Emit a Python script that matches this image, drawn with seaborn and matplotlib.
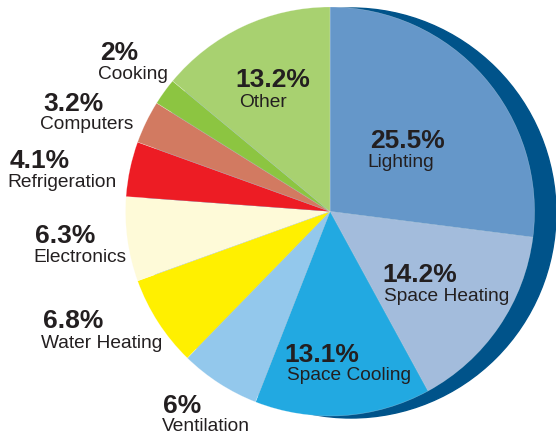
import matplotlib
matplotlib.use("Agg")
import matplotlib.pyplot as plt
import seaborn as sns
from matplotlib.patches import Circle

categories = ["Lighting", "Space Heating", "Space Cooling", "Ventilation",
              "Water Heating", "Electronics", "Refrigeration", "Computers",
              "Cooking", "Other"]
values = [25.5, 14.2, 13.1, 6, 6.8, 6.3, 4.1, 3.2, 2, 13.2]
colors = ["#6597c9", "#a3bcdc", "#22a9e1", "#93c8ec", "#fff000",
          "#fefad8", "#ed1c24", "#d27a61", "#8cc541", "#a8d170"]

# label anchor positions in pixels (left, baseline) for percent and name
label_pos = {
    "Lighting": ((370, 148), (367, 167)),
    "Space Heating": ((382, 282), (384, 301)),
    "Space Cooling": ((284, 362), (287, 380)),
    "Ventilation": ((163, 413), (162, 431)),
    "Water Heating": ((43, 328), (41, 348)),
    "Electronics": ((35, 243), (33, 262)),
    "Refrigeration": ((10, 168), (7, 187)),
    "Computers": ((43, 111), (40, 129)),
    "Cooking": ((100, 60), (98, 79)),
    "Other": ((235, 87), (239, 107)),
}

sns.set_theme(style="white")
plt.rcParams["font.family"] = ["Liberation Sans", "DejaVu Sans"]

W, H = 556, 436
fig = plt.figure(figsize=(W / 100, H / 100), dpi=100)
ax = fig.add_axes([0, 0, 1, 1])
ax.set_xlim(0, W)
ax.set_ylim(0, H)
ax.axis("off")

cx, cy, r = 330, H - 211.5, 204.5
shadow = Circle((cx + 21, cy - 1.5), r + 0.5, color="#00538a", zorder=0)
ax.add_patch(shadow)

ax.pie(values, colors=colors, startangle=90, counterclock=False,
       center=(cx, cy), radius=r, frame=True,
       wedgeprops=dict(linewidth=0.4, edgecolor=(1, 1, 1, 0.35)))
ax.set_xlim(0, W)
ax.set_ylim(0, H)
ax.set_aspect("equal")
ax.axis("off")

txt = "#231f20"
for cat, v in zip(categories, values):
    (px, py), (nx, ny) = label_pos[cat]
    ax.text(px, H - py, f"{v:g}%", fontsize=19, fontweight="bold",
            color=txt, ha="left", va="baseline", zorder=5)
    ax.text(nx, H - ny, cat, fontsize=13.8, color=txt,
            ha="left", va="baseline", zorder=5)

fig.savefig("out.png", dpi=100)
